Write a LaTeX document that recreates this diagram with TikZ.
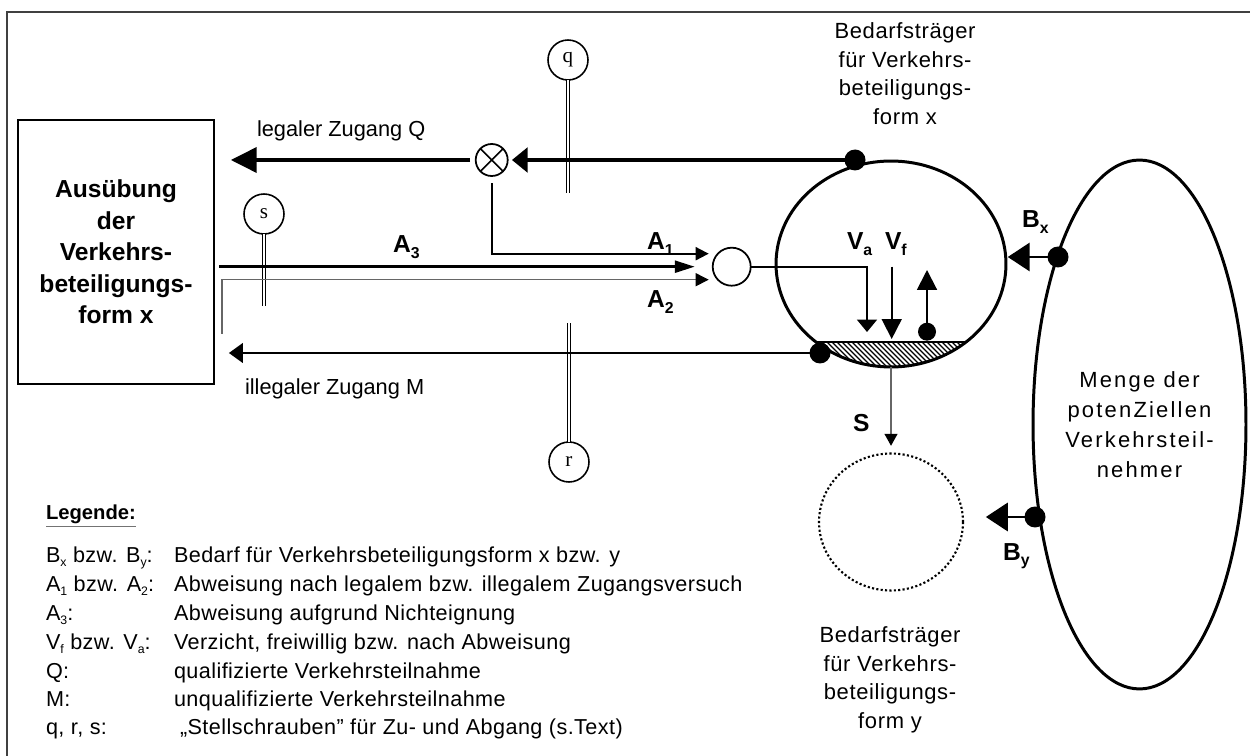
\documentclass[tikz,border=0pt]{standalone}
\usepackage{fontspec}
\setmainfont{Liberation Sans}
\newfontfamily\serifletters{Liberation Serif}
\newfontfamily\bedfont[LetterSpace=3]{Liberation Sans}
\newfontfamily\menfont[LetterSpace=10]{Liberation Sans}
\newfontfamily\legfont[LetterSpace=2]{Liberation Sans}
\usetikzlibrary{arrows.meta,shapes.geometric,calc}
\newcommand\lsub[2][8]{\raisebox{-0.4ex}{\fontsize{#1}{#1}\selectfont #2}}
\begin{document}
\begin{tikzpicture}[x=0.02cm,y=-0.02cm,
  every node/.style={inner sep=0pt,outer sep=0pt},
  lbl/.style={font=\fontsize{12.4}{14}\selectfont,anchor=base west},
  albl/.style={font=\fontsize{14}{16}\selectfont\bfseries,anchor=base west},
  leg/.style={font=\legfont\fontsize{12.3}{14}\selectfont,anchor=base west},
  knob/.style={circle,draw,line width=0.9pt,minimum size=0.8cm,font=\serifletters\fontsize{12}{12}\selectfont},
  stem/.style={double,double distance=1.6pt,line width=0.6pt},
  bigdot/.style={circle,fill,minimum size=0.42cm},
  smalldot/.style={circle,fill,minimum size=0.36cm},
  bedtext/.style={font=\bedfont\fontsize{12.5}{16.2}\selectfont,align=center,anchor=north},
]
\useasboundingbox (0,0) rectangle (1250,756);
\clip (0,0) rectangle (1250,756);
\draw[line width=0.85pt,black!75] (7,12) rectangle (1290,800);

% main box
\node[draw,line width=1.5pt,minimum width=3.92cm,minimum height=5.28cm,align=center,
      font=\fontsize{14}{17.9}\selectfont\bfseries] (box) at (116,252)
  {Ausübung\\der\\Verkehrs-\\beteiligungs-\\form x};

% set screws
\node[knob] (q) at (568,60) {q};
\node[knob] (s) at (264,214) {s};
\node[knob] (r) at (569,462) {r};
\coordinate (qEnd) at (568,193);
\coordinate (sEnd) at (264,306);
\coordinate (rEnd) at (569,323);
\draw[stem] (q.south) -- (qEnd);
\draw[stem] (s.south) -- (sEnd);
\draw[stem] (r.north) -- (rEnd);

% junctions
\node[circle,draw,line width=1pt,minimum size=0.64cm,
  path picture={\draw[line width=0.9pt] (path picture bounding box.north west) -- (path picture bounding box.south east)
     (path picture bounding box.north east) -- (path picture bounding box.south west);}] (ot) at (491.7,160) {};
\node[circle,draw,line width=1pt,minimum size=0.76cm] (c0) at (731.7,266.7) {};

% hatched segment of the demand-carrier circle
\begin{scope}
\clip (891,264) ellipse [x radius=2.3cm, y radius=2.06cm];
\clip (700,342) rectangle (1100,420);
\foreach \h in {760,765,...,1000} {\draw[line width=0.75pt] (\h,330) -- ++(45,45);}
\draw[line width=0.9pt] (700,342) -- (1100,342);
\end{scope}
\node[ellipse,draw,line width=1.7pt,minimum width=4.6cm,minimum height=4.12cm] (bx) at (891,264) {};

% population ellipse
\node[ellipse,draw,line width=1.7pt,minimum width=4.26cm,minimum height=10.58cm] (menge) at (1139.5,424.5) {};
\node[font=\menfont\fontsize{12.5}{17}\selectfont,align=center] (mengetext) at (menge.center)
  {Menge der\\potenZiellen\\Verkehrsteil-\\nehmer};

% dotted circle y
\node[ellipse,draw,line width=1.2pt,dash pattern=on 1.2pt off 1.3pt,minimum width=2.88cm,minimum height=2.74cm] (ydot) at (891,522) {};

% dots
\node[bigdot] (dotQ) at (855,160) {};
\node[bigdot] (dotM) at (820,353) {};
\node[smalldot] (dotUp) at (927,331.7) {};
\node[bigdot] (dotBx) at (1058,257) {};
\node[bigdot] (dotBy) at (1035,517) {};

% helper coordinates
\coordinate (a3s) at (219,266.7);
\coordinate (a2s) at (222,334);
\coordinate (vaTip) at (867,332);
\coordinate (vfTop) at (891.7,266.7);
\coordinate (vfTip) at (891.7,339);
\coordinate (upTip) at (927,270);

% connectors
\draw[line width=2.6pt,-{Triangle[length=9pt,width=14pt]},shorten >=2.4pt] (dotQ.center) -- (ot.east);
\draw[line width=2.2pt,-{Triangle[length=14.7pt,width=14.2pt]},shorten <=3.2pt,shorten >=9.6pt] (ot.west) -- (box.east |- ot.west);
\draw[line width=1.1pt,-{Triangle[length=7.4pt,width=7.4pt]},shorten <=4pt] (ot.south) |- ($(c0.west)+(-4,-13)$);
\draw[line width=1.4pt,-{Triangle[length=11.3pt,width=6.8pt]}] (a3s) -- ($(c0.west)+(-18,0)$);
\draw[black!60,line width=0.6pt,-{Triangle[length=7.4pt,width=7.4pt,color=black]}] (a2s) |- ($(c0.west)+(-4,13)$);
\draw[line width=1pt,-{Triangle[length=7pt,width=11.3pt]}] (c0.east) -| (vaTip);
\draw[line width=1pt,-{Triangle[length=11.3pt,width=11.3pt]}] (vfTop) -- (vfTip);
\draw[line width=1.1pt,-{Triangle[length=11.3pt,width=11.3pt]}] (dotUp.center) -- (upTip);
\draw[line width=1pt,-{Triangle[length=8pt,width=11.3pt]},shorten >=8.5pt] (dotM.center) -- (box.east |- dotM.center);
\draw[black!60,line width=0.6pt,-{Triangle[length=6.8pt,width=7.4pt,color=black]},shorten >=4.4pt] (bx.south) -- (ydot.north);
\draw[line width=1.7pt,-{Triangle[length=12.5pt,width=16pt]},shorten >=1pt] (dotBx.center) -- (bx.east |- dotBx.center);
\draw[line width=1.7pt,-{Triangle[length=12.5pt,width=16pt]},shorten >=13pt] (dotBy.center) -- (ydot.east |- dotBy.center);

% labels
\node[lbl] (tQ) at (257,137) {legaler Zugang Q};
\node[lbl] (tM) at (245,395) {illegaler Zugang M};
\node[albl] (tA1) at (647,250) {A\lsub[9]{1}};
\node[albl] (tA3) at (393,253) {A\lsub[9]{3}};
\node[albl] (tA2) at (647,308) {A\lsub[9]{2}};
\node[albl] (tVa) at (847,250) {V\lsub[9]{a}};
\node[albl] (tVf) at (885,250) {V\lsub[9]{f}};
\node[albl] (tBx) at (1022,228) {B\lsub[9]{x}};
\node[albl] (tBy) at (1003,560) {B\lsub[9]{y}};
\node[albl] (tS) at (853,432) {S};
\node[bedtext] (bedx) at (905,23) {Bedarfsträger\\für Verkehrs-\\beteiligungs-\\form x};
\node[bedtext] (bedy) at (890,627) {Bedarfsträger\\für Verkehrs-\\beteiligungs-\\form y};

% legend
\node[font=\fontsize{11.5}{14}\selectfont\bfseries,anchor=base west] (legtitle) at (46,519) {Legende:};
\draw[black!55,line width=0.6pt] ($(legtitle.base west)+(0,7.5)$) -- ($(legtitle.base east)+(0,7.5)$);
\node[leg] (l1a) at (46,562) {B\lsub[7]{x} bzw. B\lsub[7]{y}:};
\node[leg] (l1b) at (174,562) {Bedarf für Verkehrsbeteiligungsform x bzw. y};
\node[leg] (l2a) at (46,591) {A\lsub[7]{1} bzw. A\lsub[7]{2}:};
\node[leg] (l2b) at (174,591) {Abweisung nach legalem bzw. illegalem Zugangsversuch};
\node[leg] (l3a) at (46,620) {A\lsub[7]{3}:};
\node[leg] (l3b) at (174,620) {Abweisung aufgrund Nichteignung};
\node[leg] (l4a) at (46,649) {V\lsub[7]{f} bzw. V\lsub[7]{a}:};
\node[leg] (l4b) at (174,649) {Verzicht, freiwillig bzw. nach Abweisung};
\node[leg] (l5a) at (46,678) {Q:};
\node[leg] (l5b) at (174,678) {qualifizierte Verkehrsteilnahme};
\node[leg] (l6a) at (46,706) {M:};
\node[leg] (l6b) at (174,706) {unqualifizierte Verkehrsteilnahme};
\node[leg] (l7a) at (46,734) {q, r, s:};
\node[leg] (l7b) at (180,734) {„Stellschrauben” für Zu- und Abgang (s.Text)};
\end{tikzpicture}
\end{document}
